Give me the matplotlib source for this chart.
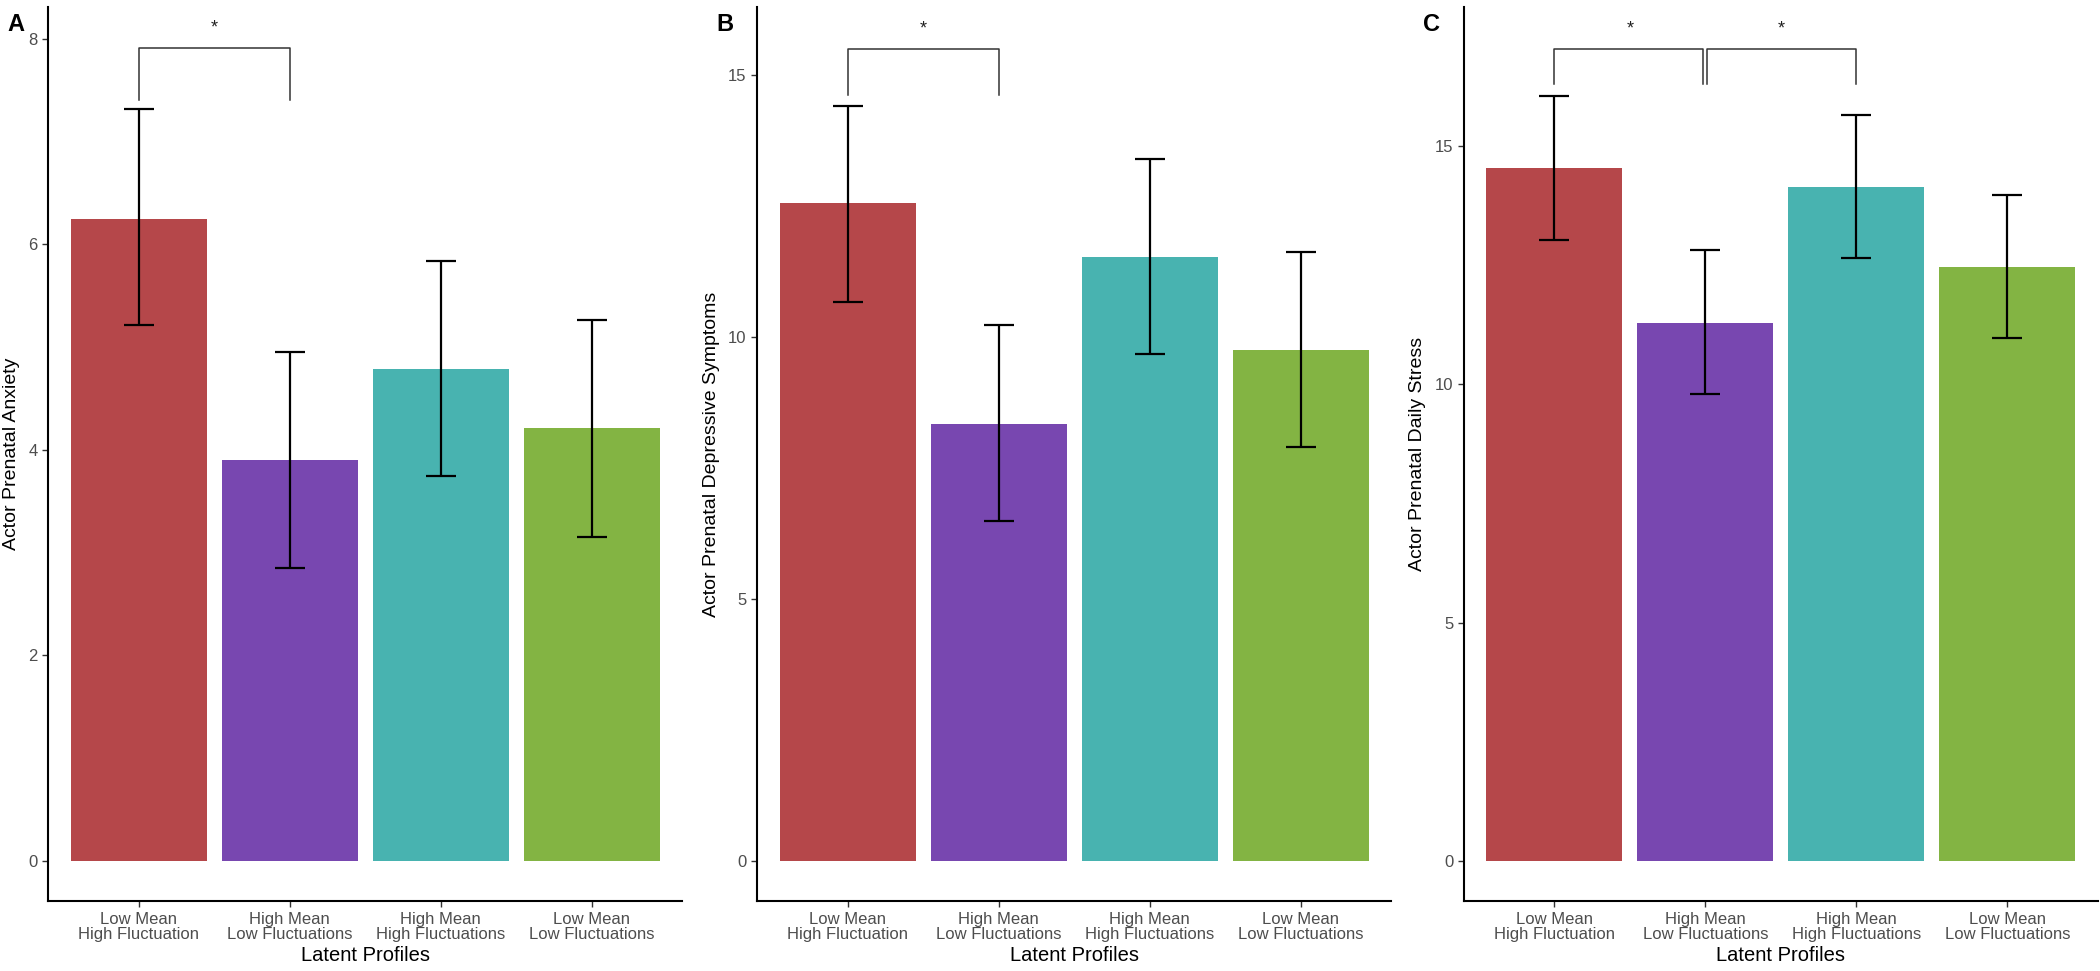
import numpy as np
import matplotlib
matplotlib.use("Agg")
import matplotlib.pyplot as plt

plt.rcParams['font.family'] = ['Liberation Sans', 'DejaVu Sans']

# ---- data ----
profiles = ["Low Mean\nHigh Fluctuation", "High Mean\nLow Fluctuations",
            "High Mean\nHigh Fluctuations", "Low Mean\nLow Fluctuations"]
colors = ["#B5474A", "#7847B0", "#48B3B0", "#83B443"]

anx_mean = [6.25, 3.90, 4.79, 4.21]
anx_low = [5.21, 2.85, 3.75, 3.15]
anx_high = [7.32, 4.95, 5.84, 5.26]

dep_mean = [12.55, 8.33, 11.52, 9.75]
dep_low = [10.66, 6.49, 9.67, 7.90]
dep_high = [14.41, 10.22, 13.39, 11.62]

str_mean = [14.53, 11.29, 14.14, 12.46]
str_low = [13.03, 9.80, 12.64, 10.97]
str_high = [16.05, 12.82, 15.66, 13.98]

# significance brackets: (group a, group b, bracket top, leg bottom)
anx_sig = [(0, 1, 7.91, 7.40)]
dep_sig = [(0, 1, 15.50, 14.62)]
str_sig = [(0, 1, 17.03, 16.30), (1, 2, 17.03, 16.30)]

panels = [
    ("A", "Actor Prenatal Anxiety", anx_mean, anx_low, anx_high, anx_sig,
     [0, 2, 4, 6, 8], (-0.39, 8.31)),
    ("B", "Actor Prenatal Depressive Symptoms", dep_mean, dep_low, dep_high, dep_sig,
     [0, 5, 10, 15], (-0.77, 16.3)),
    ("C", "Actor Prenatal Daily Stress", str_mean, str_low, str_high, str_sig,
     [0, 5, 10, 15], (-0.84, 17.92)),
]

fig = plt.figure(figsize=(21, 9.71), dpi=100)
lefts = [0.0229, 0.3605, 0.697]
x = np.arange(len(profiles))

for left, (tag, ylab, mean, low, high, sigs, yticks, ylim) in zip(lefts, panels):
    ax = fig.add_axes([left, 0.072, 0.302, 0.921])
    ax.bar(x, mean, width=0.9, color=colors, zorder=1)
    ax.vlines(x, low, high, color="black", lw=1.6, zorder=2)
    ax.hlines(low, x - 0.1, x + 0.1, color="black", lw=1.6, zorder=2)
    ax.hlines(high, x - 0.1, x + 0.1, color="black", lw=1.6, zorder=2)

    for k, (a, b, top, leg) in enumerate(sigs):
        off = 0.012 if len(sigs) > 1 else 0
        xa = a + (off if k > 0 else 0)
        xb = b - (off if k == 0 and len(sigs) > 1 else 0)
        ax.plot([xa, xa, xb, xb], [leg, top, top, leg], color="#333333", lw=1.1)
        ax.text((a + b) / 2, top + (ylim[1] - ylim[0]) * 0.013, "*",
                ha="center", va="bottom", fontsize=13, color="#222222")

    ax.set_xlim(-0.6, 3.6)
    ax.set_ylim(*ylim)
    ax.set_yticks(yticks)
    ax.set_xticks(x)
    ax.set_xticklabels(profiles, fontsize=12, color="#4D4D4D", linespacing=1.0)
    ax.tick_params(axis="y", labelsize=12, labelcolor="#4D4D4D", length=4,
                   color="#333333", width=1)
    ax.tick_params(axis="x", length=4, color="#333333", width=1)
    for s in ["top", "right"]:
        ax.spines[s].set_visible(False)
    for s in ["left", "bottom"]:
        ax.spines[s].set_linewidth(1.5)
    ax.set_ylabel(ylab, fontsize=14, labelpad=6)
    ax.set_xlabel("Latent Profiles", fontsize=14.5, labelpad=3)

    fig.text(left - 0.0155, 0.975, tag, fontsize=17, fontweight="bold",
             ha="center", va="center")

fig.savefig("out.png", dpi=100)
